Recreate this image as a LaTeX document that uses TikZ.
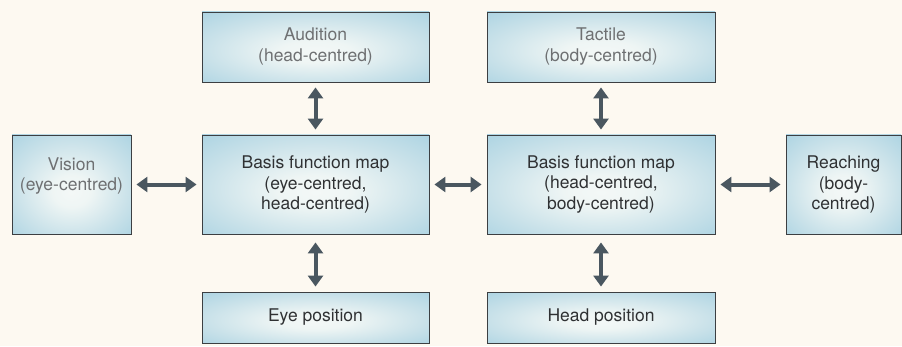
\documentclass[tikz,border=0pt]{standalone}
\usepackage{fontspec}
\setmainfont{TeX Gyre Heros}
\usetikzlibrary{arrows.meta}
\definecolor{bg}{HTML}{FDF9F1}
\definecolor{boxline}{HTML}{3C3F42}
\definecolor{textdark}{HTML}{2F3133}
\definecolor{textgrey}{HTML}{6E7072}
\definecolor{arrowc}{HTML}{4A5760}
\pgfdeclareradialshading{boxshade}{\pgfpoint{0bp}{-4bp}}{%
  rgb(0bp)=(0.955,0.972,0.968);
  rgb(8bp)=(0.935,0.962,0.958);
  rgb(24bp)=(0.79,0.885,0.915);
  rgb(38bp)=(0.665,0.825,0.885);
  rgb(50bp)=(0.645,0.815,0.875)}
\newcommand\twolines[2]{\raisebox{-3pt}{\begin{tabular}{@{}c@{}}#1\\#2\end{tabular}}}
\begin{document}
\begin{tikzpicture}[x=1pt,y=1pt,
  box/.style={draw=boxline, line width=0.9pt, shading=boxshade,
    align=center, text=textdark, font=\fontsize{17.5}{20.5}\selectfont, inner sep=0pt},
  lite/.style={text=textgrey},
  link/.style={{Triangle[width=15pt,length=11pt]}-{Triangle[width=15pt,length=11pt]},
    line width=4pt, draw=arrowc, shorten >=5pt, shorten <=5pt}]
\fill[bg] (0,0) rectangle (902,346);
\useasboundingbox (0,0) rectangle (902,346);
% middle row
\node[box, lite, minimum width=119pt, minimum height=99pt] (vision) at (71.5,161.5) {Vision\\(eye-centred)\\\mbox{}};
\node[box, minimum width=227pt, minimum height=99pt] (basisL) at (315.5,161.5) {Basis function map\\(eye-centred,\\head-centred)};
\node[box, minimum width=228pt, minimum height=99pt] (basisR) at (601,161.5) {Basis function map\\(head-centred,\\body-centred)};
\node[box, minimum width=115pt, minimum height=99pt] (reach) at (843.5,161.5) {Reaching\\(body-\\centred)};
% top row
\node[box, lite, minimum width=227pt, minimum height=70pt] (aud) at (315.5,299) {\twolines{Audition}{(head-centred)}};
\node[box, lite, minimum width=228pt, minimum height=70pt] (tact) at (601,299) {\twolines{Tactile}{(body-centred)}};
% bottom row
\node[box, minimum width=227pt, minimum height=51pt] (eye) at (315.5,28.5) {Eye position};
\node[box, minimum width=228pt, minimum height=51pt] (head) at (601,28.5) {Head position};
% connectors
\draw[link] (vision) -- (basisL);
\draw[link] (basisL) -- (basisR);
\draw[link] (basisR) -- (reach);
\draw[link] (aud) -- (basisL);
\draw[link] (tact) -- (basisR);
\draw[link, shorten <=8pt] (basisL) -- (eye);
\draw[link, shorten <=8pt] (basisR) -- (head);
\end{tikzpicture}
\end{document}
